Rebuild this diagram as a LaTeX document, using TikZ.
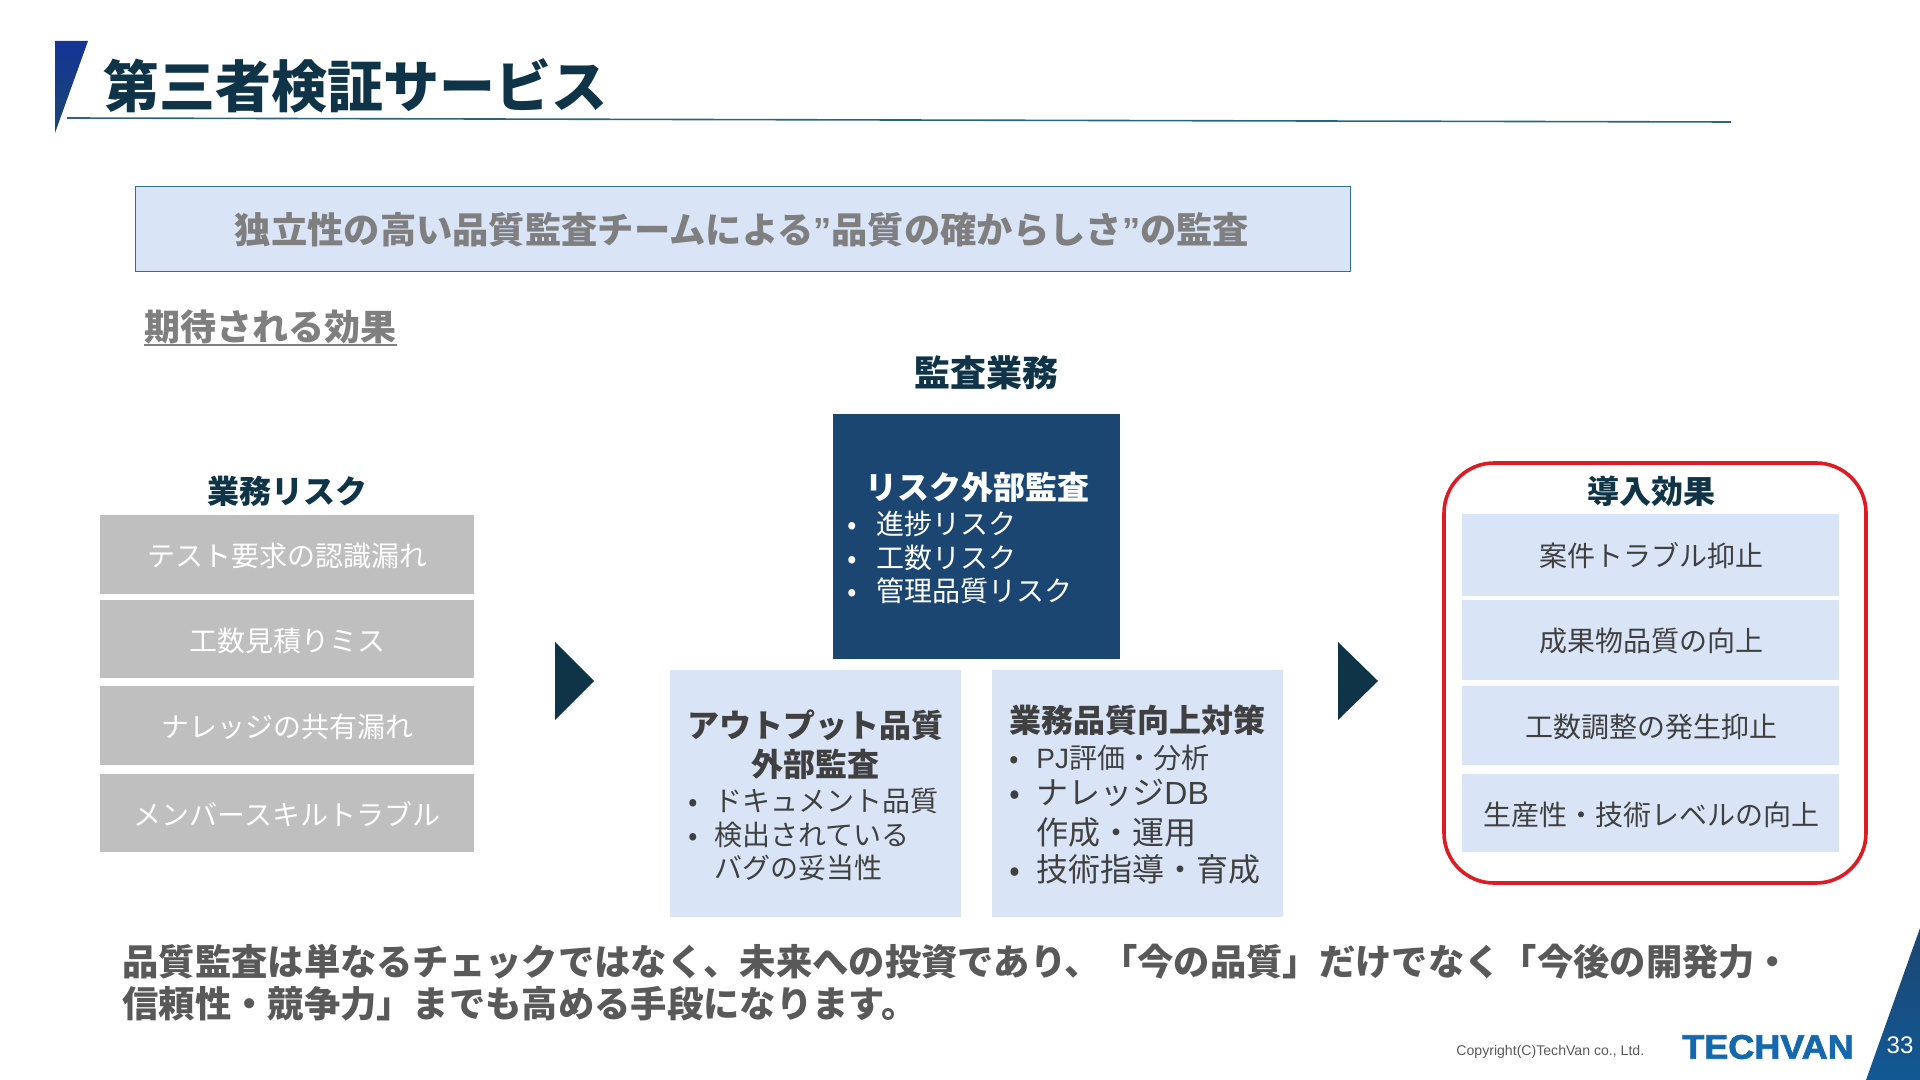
\documentclass[tikz,border=0pt]{standalone}
\usepackage{fontspec}
\setmainfont{Noto Sans CJK JP}
\newfontfamily\lat{Liberation Sans}
\newfontfamily\logofont[FakeBold=2.2,FakeStretch=1.06]{Liberation Sans Bold}
\usetikzlibrary{shapes.geometric}
\definecolor{navy}{HTML}{0F3448}
\definecolor{darkbox}{HTML}{1B4672}
\definecolor{lightbox}{HTML}{D9E5F7}
\definecolor{greybox}{HTML}{BFBFBF}
\definecolor{banner}{HTML}{2F6F8F}
\definecolor{midgrey}{HTML}{7F7F7F}
\definecolor{bodytext}{HTML}{404040}
\definecolor{bottomtext}{HTML}{595959}
\definecolor{ringred}{HTML}{DE1A22}
\definecolor{logoblue}{HTML}{1568AE}
\tikzset{
  tx/.style={font=\fontsize{#1}{#1}\selectfont, inner sep=0pt, text height=#1pt*0.82, text depth=#1pt*0.18, yshift=-1.25pt},
  panel/.style={fill=#1, draw=none},
  bul/.style={tx=14, anchor=west},
  rowgrey/.style={tx=14, text=white},
  rowblue/.style={tx=14, text=bodytext},
}
\begin{document}
\begin{tikzpicture}[x=0.5pt,y=-0.5pt]
\useasboundingbox (0,0) rectangle (1920,1080);
% header
\shade[top color=darkbox!75!blue, bottom color=darkbox] (55,41) -- (88,41) -- (55,133) -- cycle;
\draw[banner!90!black, line width=0.8pt] (67,118) -- (1731,122);
\node[tx=28, font=\fontsize{28}{28}\selectfont\bfseries, text=navy, anchor=west] (title) at (103,87) {第三者検証サービス};
% banner
\node[draw=banner, line width=0.7pt, fill=lightbox, minimum width=607.5pt, minimum height=42.5pt, inner sep=0pt, anchor=north west] (bannerbox) at (135,186) {};
\node[tx=18.15, font=\fontsize{18.15}{18.15}\selectfont\bfseries, text=midgrey] (bannertext) at (742,229) {独立性の高い品質監査チームによる{\lat ”}品質の確からしさ{\lat ”}の監査};
\node[tx=18, font=\fontsize{18}{18}\selectfont\bfseries, text=midgrey, anchor=west] (expect) at (144,326) {期待される効果};
\draw[midgrey, line width=1.2pt] (expect.south west) ++(0,-2) -- ([yshift=1pt]expect.south east);
% left column
\node[tx=16, font=\fontsize{16}{16}\selectfont\bfseries, text=navy] (riskh) at (287,491) {業務リスク};
\fill[panel=greybox] (100,515) rectangle (474,594);
\fill[panel=greybox] (100,600) rectangle (474,678);
\fill[panel=greybox] (100,686) rectangle (474,765);
\fill[panel=greybox] (100,774) rectangle (474,852);
\node[rowgrey] (r1) at (287,555) {テスト要求の認識漏れ};
\node[rowgrey] (r2) at (287,640) {工数見積りミス};
\node[rowgrey] (r3) at (287,726) {ナレッジの共有漏れ};
\node[rowgrey] (r4) at (287,814) {メンバースキルトラブル};
% arrows
\fill[navy] (555,642) -- (594,681) -- (555,720) -- cycle;
\fill[navy] (1338,642) -- (1378,681) -- (1338,720) -- cycle;
% centre
\node[tx=18, font=\fontsize{18}{18}\selectfont\bfseries, text=navy] (audit) at (986,372) {監査業務};
\fill[panel=darkbox] (833,414) rectangle (1120,659);
\fill[panel=lightbox] (670,670) rectangle (961,917);
\fill[panel=lightbox] (992,670) rectangle (1283,917);
\node[tx=16, font=\fontsize{16}{16}\selectfont\bfseries, text=white] (a0) at (977,487) {リスク外部監査};
\node[bul, text=white] (a1b) at (847,523) {•}; \node[bul, text=white] (a1) at (876,523) {進捗リスク};
\node[bul, text=white] (a2b) at (847,557) {•}; \node[bul, text=white] (a2) at (876,557) {工数リスク};
\node[bul, text=white] (a3b) at (847,590) {•}; \node[bul, text=white] (a3) at (876,590) {管理品質リスク};
\node[tx=16, font=\fontsize{16}{16}\selectfont\bfseries, text=bodytext] (b0) at (815,725) {アウトプット品質};
\node[tx=16, font=\fontsize{16}{16}\selectfont\bfseries, text=bodytext] (b0b) at (815,764) {外部監査};
\node[bul, text=bodytext] (b1b) at (688,800) {•}; \node[bul, text=bodytext] (b1) at (714,800) {ドキュメント品質};
\node[bul, text=bodytext] (b2b) at (688,834) {•}; \node[bul, text=bodytext] (b2) at (714,834) {検出されている};
\node[bul, text=bodytext] (b3) at (714,867) {バグの妥当性};
\node[tx=16, font=\fontsize{16}{16}\selectfont\bfseries, text=bodytext] (c0) at (1137,720) {業務品質向上対策};
\node[bul, text=bodytext] (c1b) at (1009,757) {•}; \node[bul, text=bodytext] (c1) at (1036,757) {{\lat PJ}評価・分析};
\node[tx=16, anchor=west, text=bodytext] (c2b) at (1009,792) {•}; \node[tx=16, anchor=west, text=bodytext] (c2) at (1036,792) {ナレッジ{\lat DB}};
\node[tx=16, anchor=west, text=bodytext] (c3) at (1036,832) {作成・運用};
\node[tx=16, anchor=west, text=bodytext] (c4b) at (1009,869) {•}; \node[tx=16, anchor=west, text=bodytext] (c4) at (1036,869) {技術指導・育成};
% right column
\draw[ringred, line width=1.8pt, rounded corners=25pt] (1444,463) rectangle (1866,883);
\node[tx=16, font=\fontsize{16}{16}\selectfont\bfseries, text=navy] (effh) at (1651,491) {導入効果};
\fill[panel=lightbox] (1462,514) rectangle (1839,596);
\fill[panel=lightbox] (1462,600) rectangle (1839,680);
\fill[panel=lightbox] (1462,686) rectangle (1839,765);
\fill[panel=lightbox] (1462,774) rectangle (1839,852);
\node[rowblue] (e1) at (1651,555) {案件トラブル抑止};
\node[rowblue] (e2) at (1651,640) {成果物品質の向上};
\node[rowblue] (e3) at (1651,726) {工数調整の発生抑止};
\node[rowblue] (e4) at (1651,814) {生産性・技術レベルの向上};
% bottom
\node[tx=18.16, font=\fontsize{18.16}{18.16}\selectfont\bfseries, text=bottomtext, anchor=west] (bt1) at (122,961) {品質監査は単なるチェックではなく、未来への投資であり、「今の品質」だけでなく「今後の開発力・};
\node[tx=18.16, font=\fontsize{18.16}{18.16}\selectfont\bfseries, text=bottomtext, anchor=west] (bt2) at (122,1003) {信頼性・競争力」までも高める手段になります。};
% footer
\shade[top color=darkbox, bottom color=logoblue!85!black] (1920,928) -- (1920,1080) -- (1866,1080) -- cycle;
\node[inner sep=0pt, anchor=west, text=bottomtext, font=\fontsize{7.05}{7.05}\selectfont\lat] (copy) at (1456,1052) {Copyright(C)TechVan co., Ltd.};
\node[inner sep=0pt, anchor=center, text=logoblue, font=\fontsize{17}{17}\selectfont\logofont] (logo) at (1768,1047) {TECHVAN};
\node[inner sep=0pt, text=white, font=\fontsize{12}{12}\selectfont\lat] (page) at (1900,1045) {33};
\end{tikzpicture}
\end{document}
